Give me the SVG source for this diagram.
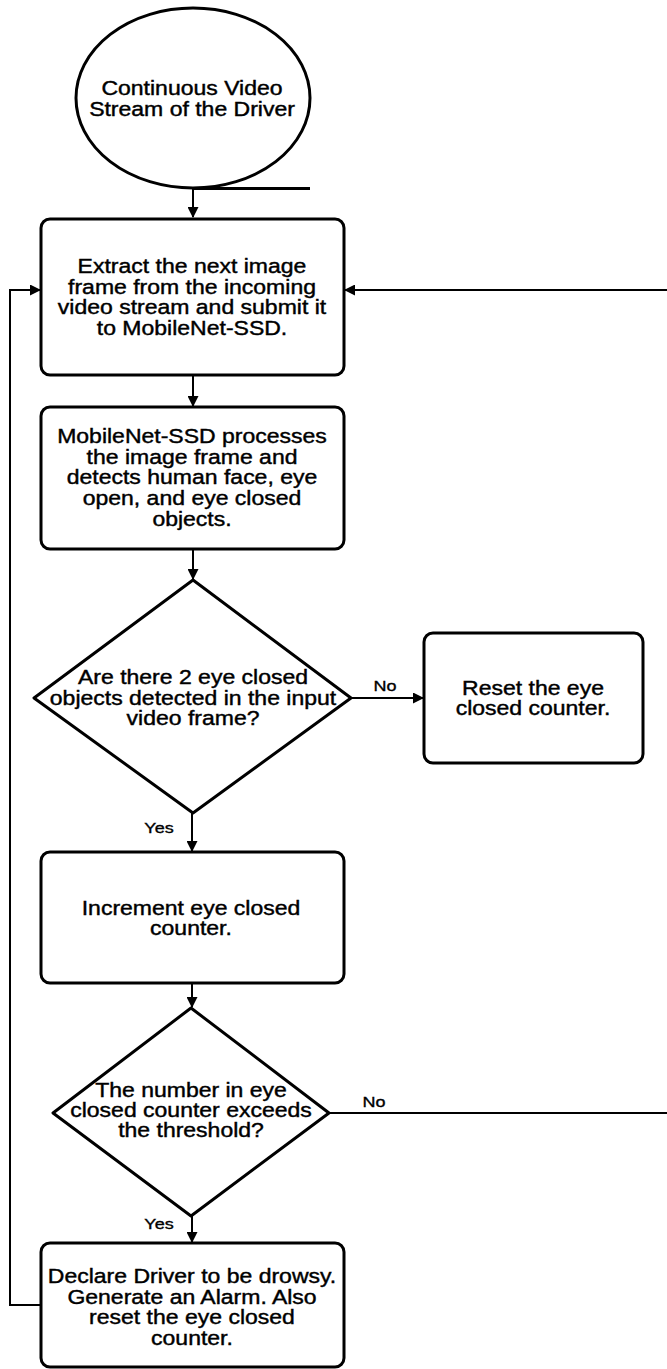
<svg xmlns="http://www.w3.org/2000/svg" width="667" height="1369" viewBox="0 0 667 1369">
<defs>
<style>
.shape{fill:#fff;stroke:#000;stroke-width:3;stroke-linejoin:round}
.conn{fill:none;stroke:#000;stroke-width:2}
.t{font-family:"Liberation Sans",Arial,sans-serif;font-size:19.5px;fill:#000;stroke:#000;stroke-width:0.4;text-anchor:middle}
.lbl{font-family:"Liberation Sans",Arial,sans-serif;font-size:15px;fill:#000;stroke:#000;stroke-width:0.35;text-anchor:middle}
</style>
<marker id="arr" markerUnits="userSpaceOnUse" markerWidth="11" markerHeight="11" refX="10" refY="5.5" orient="auto" viewBox="0 0 11 11">
<path d="M0,0 L11,5.5 L0,11 z" fill="#000"/>
</marker>
</defs>
<rect width="667" height="1369" fill="#fff"/>

<g id="connectors">
<path class="conn" d="M193,189 V217" marker-end="url(#arr)"/>
<path class="conn" d="M193,375 V406" marker-end="url(#arr)"/>
<path class="conn" d="M193,549 V579" marker-end="url(#arr)"/>
<path class="conn" d="M351,698 H423" marker-end="url(#arr)"/>
<path class="conn" d="M192,813 V851" marker-end="url(#arr)"/>
<path class="conn" d="M192,983 V1007" marker-end="url(#arr)"/>
<path class="conn" d="M329,1113 H675 V290 H345" marker-end="url(#arr)"/>
<path class="conn" d="M192,1216 V1242" marker-end="url(#arr)"/>
<path class="conn" d="M41,1305 H10 V290 H40" marker-end="url(#arr)"/>
<g transform="translate(385 0) scale(1.2 1)"><text class="lbl" x="0" y="691">No</text></g>
<g transform="translate(159 0) scale(1.2 1)"><text class="lbl" x="0" y="833">Yes</text></g>
<g transform="translate(374 0) scale(1.2 1)"><text class="lbl" x="0" y="1107">No</text></g>
<g transform="translate(159 0) scale(1.2 1)"><text class="lbl" x="0" y="1229">Yes</text></g>
</g>

<g id="start">
<ellipse class="shape" cx="193" cy="98" rx="117" ry="90"/>
<path class="conn" d="M193,188.5 H310" style="stroke-width:3"/>
<g transform="translate(192 0) scale(1.18 1)">
<text class="t" x="0" y="95">Continuous Video</text>
<text class="t" x="0" y="116">Stream of the Driver</text>
</g>
</g>

<g id="extract">
<rect class="shape" x="41" y="219" width="303" height="156" rx="9"/>
<g transform="translate(192 0) scale(1.18 1)">
<text class="t" x="0" y="273">Extract the next image</text>
<text class="t" x="0" y="294">frame from the incoming</text>
<text class="t" x="0" y="314">video stream and submit it</text>
<text class="t" x="0" y="335">to MobileNet-SSD.</text>
</g>
</g>

<g id="process">
<rect class="shape" x="41" y="407" width="303" height="142" rx="9"/>
<g transform="translate(192 0) scale(1.18 1)">
<text class="t" x="0" y="443">MobileNet-SSD processes</text>
<text class="t" x="0" y="464">the image frame and</text>
<text class="t" x="0" y="484">detects human face, eye</text>
<text class="t" x="0" y="505">open, and eye closed</text>
<text class="t" x="0" y="526">objects.</text>
</g>
</g>

<g id="decision1">
<polygon class="shape" points="193,580 351,698 193,813 34,698"/>
<g transform="translate(193 0) scale(1.18 1)">
<text class="t" x="0" y="684">Are there 2 eye closed</text>
<text class="t" x="0" y="705">objects detected in the input</text>
<text class="t" x="0" y="725">video frame?</text>
</g>
</g>

<g id="reset">
<rect class="shape" x="424" y="633" width="219" height="130" rx="9"/>
<g transform="translate(533 0) scale(1.18 1)">
<text class="t" x="0" y="695">Reset the eye</text>
<text class="t" x="0" y="715">closed counter.</text>
</g>
</g>

<g id="increment">
<rect class="shape" x="41" y="852" width="303" height="131" rx="9"/>
<g transform="translate(191 0) scale(1.18 1)">
<text class="t" x="0" y="915">Increment eye closed</text>
<text class="t" x="0" y="935">counter.</text>
</g>
</g>

<g id="decision2">
<polygon class="shape" points="191,1008 329,1113 191,1216 53,1113"/>
<g transform="translate(191 0) scale(1.18 1)">
<text class="t" x="0" y="1097">The number in eye</text>
<text class="t" x="0" y="1117">closed counter exceeds</text>
<text class="t" x="0" y="1137">the threshold?</text>
</g>
</g>

<g id="alarm">
<rect class="shape" x="41" y="1243" width="303" height="124" rx="9"/>
<g transform="translate(192 0) scale(1.18 1)">
<text class="t" x="0" y="1283">Declare Driver to be drowsy.</text>
<text class="t" x="0" y="1304">Generate an Alarm. Also</text>
<text class="t" x="0" y="1324">reset the eye closed</text>
<text class="t" x="0" y="1345">counter.</text>
</g>
</g>
</svg>
